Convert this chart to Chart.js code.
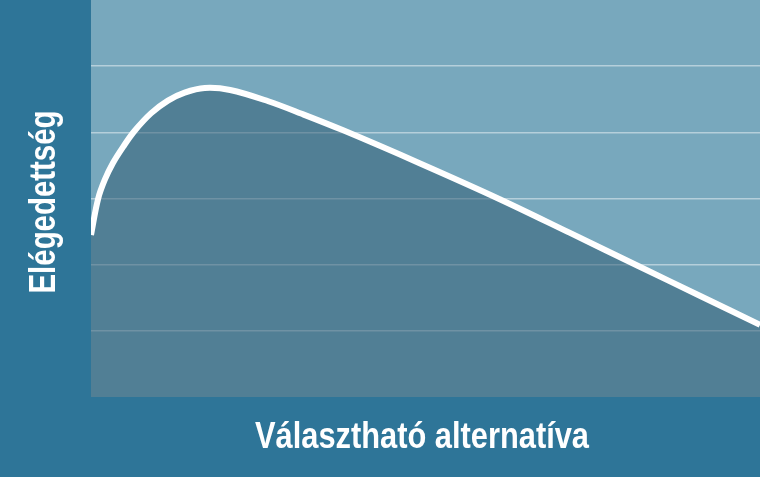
<!DOCTYPE html>
<html>
<head>
<meta charset="utf-8">
<script src="https://cdn.jsdelivr.net/npm/chart.js@4/dist/chart.umd.min.js"></script>
<style>
  html, body { margin: 0; padding: 0; background: #2e7598; }
  #wrap { position: relative; width: 760px; height: 477px; background: #2e7598; }
</style>
</head>
<body>
<div id="wrap"><canvas id="chart"></canvas></div>
<script>
// -------------------------------------------------------
// DATA (x = alternative 0..100, y = satisfaction 0..6)
const alternatives = [0, 1.05, 2.05, 3.3, 4.8, 6.5, 9, 11.5, 14, 17, 20.8, 26.5, 31.5, 37.7, 49.2, 61.1, 71.6, 81.8, 91, 100];
const satisfaction = [2.45, 2.99, 3.28, 3.54, 3.78, 4.02, 4.29, 4.48, 4.6, 4.67, 4.64, 4.47, 4.28, 4.03, 3.53, 2.99, 2.48, 1.98, 1.53, 1.09];
const gridTicks = [0, 1, 2, 3, 4, 5, 6];

const xTitle = "Választható alternatíva";
const yTitle = "Elégedettség";

// -------------------------------------------------------
// PLUGINS
const plotBackground = {
  id: "plotBackground",
  beforeDraw(chart) {
    const { ctx, chartArea: a } = chart;
    ctx.save();
    ctx.fillStyle = "#78a8bd";
    ctx.fillRect(a.left, a.top, a.right - a.left, a.bottom - a.top);
    ctx.restore();
  },
};

// condensed white titles, squeezed to the width seen in the picture
function drawSquashed(ctx, text, width) {
  const w = ctx.measureText(text).width;
  ctx.scale(width / w, 1);
  ctx.fillText(text, 0, 0);
}

const axisTitles = {
  id: "axisTitles",
  afterDraw(chart) {
    const { ctx, chartArea: a } = chart;
    ctx.save();
    ctx.fillStyle = "#ffffff";
    ctx.font = 'bold 37px "Liberation Sans Narrow", "Liberation Sans", Arial, sans-serif';
    ctx.textAlign = "center";
    ctx.textBaseline = "alphabetic";

    ctx.save();
    ctx.translate(422, a.bottom + 51);
    drawSquashed(ctx, xTitle, 334);
    ctx.restore();

    ctx.save();
    ctx.translate(55, 202);
    ctx.rotate(-Math.PI / 2);
    drawSquashed(ctx, yTitle, 183);
    ctx.restore();

    ctx.restore();
  },
};

// -------------------------------------------------------
// CHART
new Chart(document.getElementById("chart"), {
  type: "line",
  data: {
    datasets: [{
      data: alternatives.map((x, i) => ({ x, y: satisfaction[i] })),
      borderColor: "#ffffff",
      borderWidth: 6,
      backgroundColor: "rgba(42, 86, 109, 0.5)",
      fill: "origin",
      pointRadius: 0,
      tension: 0.35,
      clip: 0,
    }],
  },
  options: {
    responsive: true,
    maintainAspectRatio: false,
    animation: false,
    layout: { padding: { left: 91, right: 0, top: 0, bottom: 80 } },
    plugins: { legend: { display: false }, tooltip: { enabled: false } },
    scales: {
      x: { type: "linear", min: 0, max: 100, display: false },
      y: {
        min: 0,
        max: 6,
        z: 1,
        afterFit: (s) => { s.width = 0; },
        afterBuildTicks: (s) => { s.ticks = gridTicks.map((v) => ({ value: v })); },
        ticks: { display: false },
        border: { display: false },
        grid: {
          drawTicks: false,
          lineWidth: 1.5,
          color: (c) => (c.tick && (c.tick.value === 0 || c.tick.value === 6) ? "rgba(0,0,0,0)" : "rgba(255,255,255,0.45)"),
        },
      },
    },
  },
  plugins: [plotBackground, axisTitles],
});
</script>
</body>
</html>
